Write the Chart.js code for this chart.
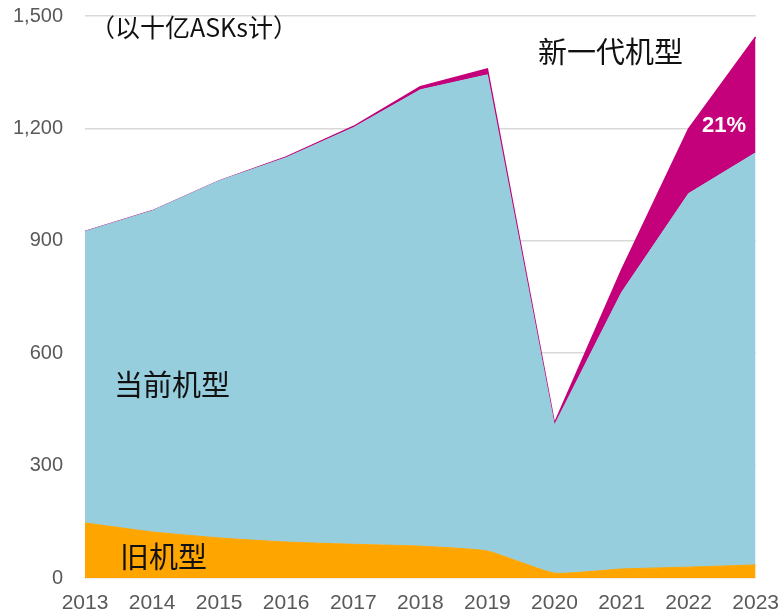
<!DOCTYPE html>
<html>
<head>
<meta charset="utf-8">
<script src="https://cdn.jsdelivr.net/npm/chart.js@4"></script>
<style>
  html, body { margin: 0; padding: 0; background: #fff; overflow: hidden; }
  #wrap { width: 784px; height: 630px; position: relative; margin-top: -18px; }
</style>
</head>
<body>
<div id="wrap"><canvas id="canvas1"></canvas></div>
<script>
// categories + series (billions of ASKs, stacked)
const years = ['2013', '2014', '2015', '2016', '2017', '2018', '2019', '2020', '2021', '2022', '2023'];
const oldFleet = [147, 123, 107, 96, 90, 85, 72, 13, 24, 29, 35];
const currentFleet = [778, 857, 953, 1026, 1112, 1218, 1271, 395, 738, 997, 1100];
const newGen = [0, 0, 0, 2, 3, 8, 16, 5, 60, 173, 309];
const yTicks = [0, 300, 600, 900, 1200, 1500];

// text labels, canvas is shifted up by 18px
const labelPlugin = {
  id: 'labels',
  afterDraw(chart) {
    const ctx = chart.ctx;
    const dy = 18;
    ctx.save();
    ctx.textBaseline = 'middle';
    ctx.fillStyle = '#111';
    ctx.font = '25px "Noto Sans CJK SC"';
    ctx.textAlign = 'left';
    ctx.fillText('（以十亿ASKs计）', 90, 27 + dy);
    ctx.font = '29px "Noto Sans CJK SC"';
    ctx.fillText('新一代机型', 538, 52 + dy);
    ctx.fillText('当前机型', 114, 385 + dy);
    ctx.fillText('旧机型', 120, 557 + dy);
    ctx.fillStyle = '#fff';
    ctx.font = 'bold 22px "Liberation Sans"';
    ctx.fillText('21%', 702, 126 + dy);
    ctx.restore();
  }
};

const ctx = document.getElementById('canvas1').getContext('2d');
new Chart(ctx, {
  type: 'line',
  data: {
    labels: years,
    datasets: [
      { data: oldFleet, fill: 'origin', backgroundColor: '#FFA500', borderColor: '#FFA500', borderWidth: 1, pointRadius: 0, tension: 0.15 },
      { data: currentFleet, fill: '-1', backgroundColor: '#96CEDD', borderColor: '#96CEDD', borderWidth: 1, pointRadius: 0, tension: 0 },
      { data: newGen, fill: '-1', backgroundColor: '#C4007A', borderColor: '#C4007A', borderWidth: 1.5, pointRadius: 0, tension: 0 }
    ]
  },
  options: {
    responsive: true,
    maintainAspectRatio: false,
    animation: false,
    layout: { padding: { top: 0, right: 23, left: 0, bottom: 0 } },
    plugins: { legend: { display: false }, tooltip: { enabled: false } },
    scales: {
      x: {
        offset: false,
        grid: { display: false },
        border: { display: false },
        ticks: { color: '#595959', font: { family: 'Liberation Sans', size: 21 }, padding: 5, maxRotation: 0, autoSkip: false },
        afterFit: s => { s.height = 34; }
      },
      y: {
        stacked: true,
        min: 0,
        max: 1500,
        afterBuildTicks: s => { s.ticks = yTicks.map(v => ({ value: v })); },
        grid: { color: '#D9D9D9', lineWidth: 1.5, drawTicks: false },
        border: { display: false },
        ticks: {
          color: '#595959',
          font: { family: 'Liberation Sans', size: 20 },
          padding: 22,
          callback: v => v.toLocaleString('en-US')
        },
        afterFit: s => { s.width = 85; }
      }
    }
  },
  plugins: [labelPlugin]
});
</script>
</body>
</html>
